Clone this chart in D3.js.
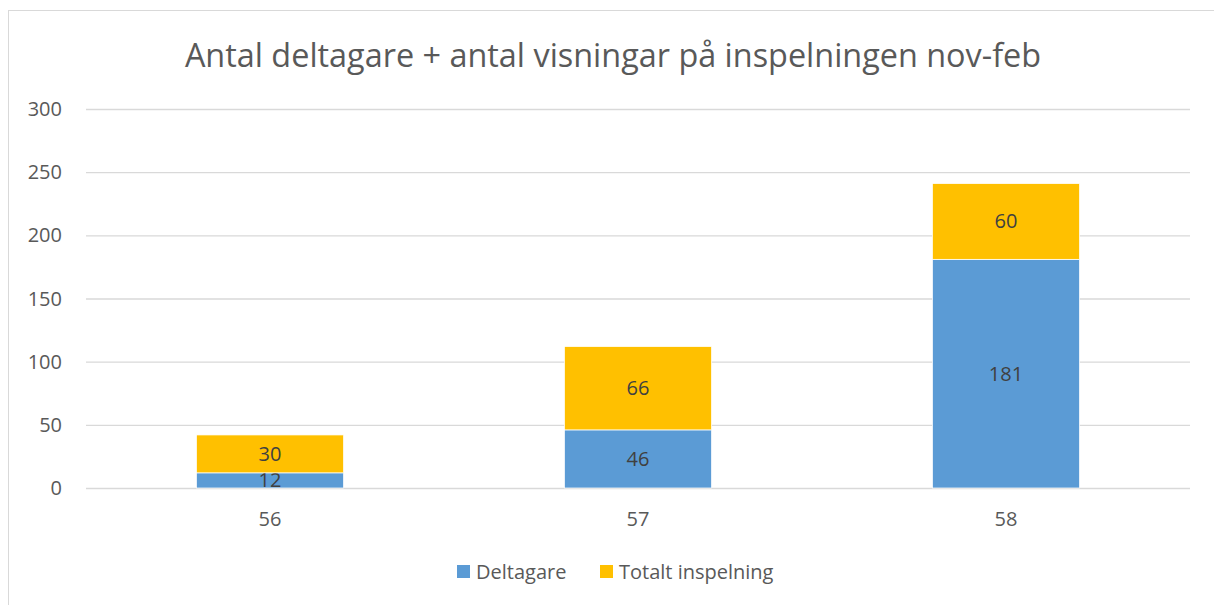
<!DOCTYPE html>
<html><head><meta charset="utf-8">
<script src="https://cdn.jsdelivr.net/npm/d3@7"></script>
<style>body{margin:0;background:#fff}svg{display:block}text{font-family:"Open Sans",sans-serif}</style>
</head><body><svg id="c" width="1214" height="605"></svg>
<script>
const categories = ["56","57","58"];
const deltagare = [12,46,181];
const totalt = [30,66,60];
const yTicks = [0,50,100,150,200,250,300];
const seriesNames = ["Deltagare","Totalt inspelning"];
const colors = ["#5B9BD5","#FFC000"];

const svg = d3.select("#c");
svg.append("rect").attr("x",8.5).attr("y",10.5).attr("width",1300).attr("height",700)
  .attr("fill","none").attr("stroke","#d9d9d9");

const x = d3.scaleBand().domain(categories).range([86,1190]).paddingInner(0.6).paddingOuter(0.3);
const y = d3.scaleLinear().domain([0,300]).range([488,109]);

svg.append("text").attr("x",613).attr("y",67).attr("text-anchor","middle")
  .attr("font-size",32.4).attr("fill","#595959").text("Antal deltagare + antal visningar på inspelningen nov-feb");

const grid = svg.append("g");
grid.selectAll("line").data(yTicks).join("line")
  .attr("x1",86).attr("x2",1190).attr("y1",d=>y(d)+0.5).attr("y2",d=>y(d)+0.5)
  .attr("stroke","#d9d9d9").attr("stroke-width",1.3);
svg.append("g").selectAll("text").data(yTicks).join("text")
  .attr("x",62).attr("y",d=>y(d)+7).attr("text-anchor","end").attr("font-size",20)
  .attr("fill","#595959").text(d=>d);

const data = categories.map((c,i)=>({c, vals:[deltagare[i], totalt[i]]}));
const stack = d3.stack().keys([0,1]).value((d,k)=>d.vals[k])(data);
stack.forEach((layer,k)=>{
  const g = svg.append("g");
  g.selectAll("rect").data(layer).join("rect")
    .attr("x",d=>x(d.data.c)).attr("width",x.bandwidth())
    .attr("y",d=>y(d[1])).attr("height",d=>y(d[0])-y(d[1]))
    .attr("fill",colors[k]).attr("stroke","#fff").attr("stroke-width",0.75);
  g.selectAll("text").data(layer).join("text")
    .attr("x",d=>x(d.data.c)+x.bandwidth()/2).attr("y",d=>(y(d[0])+y(d[1]))/2+7)
    .attr("text-anchor","middle").attr("font-size",20).attr("fill","#404040")
    .text(d=>d[1]-d[0]);
});

svg.append("g").selectAll("text").data(categories).join("text")
  .attr("x",d=>x(d)+x.bandwidth()/2).attr("y",526).attr("text-anchor","middle")
  .attr("font-size",20).attr("fill","#595959").text(d=>d);

const legX = [457,600];
const lg = svg.append("g");
seriesNames.forEach((n,i)=>{
  lg.append("rect").attr("x",legX[i]).attr("y",565).attr("width",13).attr("height",13).attr("fill",colors[i]);
  lg.append("text").attr("x",legX[i]+19).attr("y",579).attr("font-size",20).attr("fill","#595959").text(n);
});
</script></body></html>
